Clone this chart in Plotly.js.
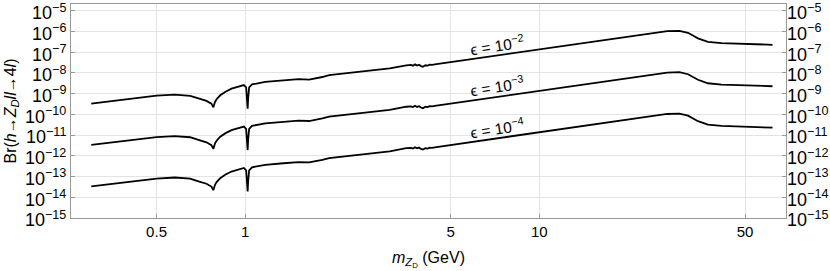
<!DOCTYPE html>
<html>
<head>
<meta charset="utf-8">
<script src="https://cdn.plot.ly/plotly-3.0.1.min.js"></script>
<style>html,body{margin:0;padding:0;background:#fff;}#chart{width:830px;height:271px;}</style>
</head>
<body>
<div id="chart"></div>
<script>
// Dark photon mass m_ZD (GeV)
const massGeV = [0.30,0.37,0.43,0.50,0.577,0.65,0.694,0.739,0.768,0.780,0.790,0.800,0.823,0.858,0.899,0.95,0.99,1.008,1.016,1.020,1.024,1.032,1.055,1.17,1.35,1.52,1.65,1.75,1.83,1.93,2.38,3.1,3.53,3.66,3.72,3.78,3.84,3.9,3.96,4.02,4.1,4.17,4.24,4.32,4.47,5.37,7.0,10,14,18.9,24.6,27.2,29.9,31.0,32.0,34.6,37.4,41.6,54,62];

// Br(h -> Z_D l l -> 4l) for epsilon = 1e-2
const brEps2 = [3.35e-10,4.7e-10,6.3e-10,8.0e-10,9.0e-10,7.9e-10,5.9e-10,4.5e-10,3.3e-10,2.2e-10,4.0e-10,5.4e-10,8.4e-10,1.25e-9,1.75e-9,2.3e-9,2.6e-9,2.0e-9,5e-10,1.9e-10,6e-10,2.0e-9,2.8e-9,3.7e-9,4.4e-9,5.0e-9,4.8e-9,5.5e-9,6.4e-9,7.8e-9,1.12e-8,1.65e-8,2.35e-8,2.45e-8,2.25e-8,2.6e-8,2.3e-8,2.5e-8,2.15e-8,2.0e-8,2.35e-8,2.25e-8,2.5e-8,2.45e-8,2.67e-8,3.86e-8,6.7e-8,1.45e-7,2.8e-7,5.2e-7,8.7e-7,1.05e-6,1.09e-6,1.0e-6,8.7e-7,4.7e-7,3.2e-7,2.77e-7,2.48e-7,2.29e-7];

// epsilon = 1e-3
const brEps3 = [3.35e-12,4.7e-12,6.3e-12,8.0e-12,9.0e-12,7.9e-12,5.9e-12,4.5e-12,3.3e-12,2.2e-12,4.0e-12,5.4e-12,8.4e-12,1.25e-11,1.75e-11,2.3e-11,2.6e-11,2.0e-11,5e-12,1.9e-12,6e-12,2.0e-11,2.8e-11,3.7e-11,4.4e-11,5.0e-11,4.8e-11,5.5e-11,6.4e-11,7.8e-11,1.12e-10,1.65e-10,2.35e-10,2.45e-10,2.25e-10,2.6e-10,2.3e-10,2.5e-10,2.15e-10,2.0e-10,2.35e-10,2.25e-10,2.5e-10,2.45e-10,2.67e-10,3.86e-10,6.7e-10,1.45e-9,2.8e-9,5.2e-9,8.7e-9,1.05e-8,1.09e-8,1.0e-8,8.7e-9,4.7e-9,3.2e-9,2.77e-9,2.48e-9,2.29e-9];

// epsilon = 1e-4
const brEps4 = [3.35e-14,4.7e-14,6.3e-14,8.0e-14,9.0e-14,7.9e-14,5.9e-14,4.5e-14,3.3e-14,2.2e-14,4.0e-14,5.4e-14,8.4e-14,1.25e-13,1.75e-13,2.3e-13,2.6e-13,2.0e-13,5e-14,1.9e-14,6e-14,2.0e-13,2.8e-13,3.7e-13,4.4e-13,5.0e-13,4.8e-13,5.5e-13,6.4e-13,7.8e-13,1.12e-12,1.65e-12,2.35e-12,2.45e-12,2.25e-12,2.6e-12,2.3e-12,2.5e-12,2.15e-12,2.0e-12,2.35e-12,2.25e-12,2.5e-12,2.45e-12,2.67e-12,3.86e-12,6.7e-12,1.45e-11,2.8e-11,5.2e-11,8.7e-11,1.05e-10,1.09e-10,1.0e-10,8.7e-11,4.7e-11,3.2e-11,2.77e-11,2.48e-11,2.29e-11];

const xTickVals = [0.5, 1, 5, 10, 50];
const xTickText = ['0.5', '1', '5', '10', '50'];
const yTickVals = [1e-15,1e-14,1e-13,1e-12,1e-11,1e-10,1e-9,1e-8,1e-7,1e-6,1e-5];
const yTickText = ['10<sup>−15</sup>','10<sup>−14</sup>','10<sup>−13</sup>','10<sup>−12</sup>','10<sup>−11</sup>','10<sup>−10</sup>','10<sup>−9</sup>','10<sup>−8</sup>','10<sup>−7</sup>','10<sup>−6</sup>','10<sup>−5</sup>'];
const curveLabels = ['ϵ = 10<sup>−2</sup>', 'ϵ = 10<sup>−3</sup>', 'ϵ = 10<sup>−4</sup>'];
const labelMass = [7.2, 7.2, 7.2];
const labelBr = [2.3e-7, 2.3e-9, 2.3e-11];

const lineStyle = {color: '#000', width: 1.8};
const traces = [brEps2, brEps3, brEps4].map(ys => ({
  x: massGeV, y: ys, type: 'scatter', mode: 'lines', line: lineStyle,
  hoverinfo: 'skip', showlegend: false
}));
// invisible trace so the mirrored right-hand axis is drawn
traces.push({x: [massGeV[0]], y: [brEps2[0]], yaxis: 'y2', type: 'scatter', mode: 'markers',
  marker: {opacity: 0}, hoverinfo: 'skip', showlegend: false});

const family = 'Liberation Sans, Arial, sans-serif';
const font = {family: family, size: 15, color: '#000'};
const tickFontY = {family: family, size: 18, color: '#000'};
const labelFont = {family: family, size: 15.5, color: '#000'};
const titleFont = {family: family, size: 16, color: '#000'};
const yRange = [-15, -4.67];

const layout = {
  width: 830, height: 271,
  margin: {l: 71, r: 44, t: 4, b: 53},
  paper_bgcolor: '#fff', plot_bgcolor: '#fff',
  font: font,
  showlegend: false,
  xaxis: {
    type: 'log', range: [Math.log10(0.256), Math.log10(68.9)],
    tickvals: xTickVals, ticktext: xTickText,
    showgrid: true, gridcolor: '#e3e3e3', gridwidth: 1,
    showline: true, linecolor: '#999', linewidth: 1, mirror: true,
    ticks: 'inside', ticklen: 4, tickcolor: '#999',
    tickfont: font, zeroline: false, automargin: false,
    title: {text: '<i>m</i><sub><i>Z</i><sub>D</sub></sub> (GeV)', font: titleFont, standoff: 12}
  },
  yaxis: {
    type: 'log', range: yRange, tickvals: yTickVals, ticktext: yTickText,
    showgrid: true, gridcolor: '#e3e3e3', gridwidth: 1,
    showline: true, linecolor: '#999', linewidth: 1, mirror: true,
    ticks: 'inside', ticklen: 4, tickcolor: '#999', ticklabeloverflow: 'allow',
    ticklabelshift: 2,
    tickfont: tickFontY, zeroline: false, automargin: false,
    title: {text: 'Br(<i>h</i>→<i>Z</i><sub><i>D</i></sub><i>ll</i>→4<i>l</i>)', font: titleFont, standoff: 4}
  },
  yaxis2: {
    type: 'log', range: yRange, tickvals: yTickVals, ticktext: yTickText,
    overlaying: 'y', side: 'right', showgrid: false, zeroline: false,
    showline: false, ticks: 'inside', ticklen: 4, tickcolor: '#999', ticklabeloverflow: 'allow',
    ticklabelshift: 2,
    tickfont: tickFontY, automargin: false
  },
  annotations: curveLabels.map((t, i) => ({
    x: Math.log10(labelMass[i]), y: Math.log10(labelBr[i]), xref: 'x', yref: 'y',
    text: t, showarrow: false, textangle: -8.5, font: labelFont
  }))
};

Plotly.newPlot('chart', traces, layout, {displayModeBar: false, staticPlot: true});
</script>
</body>
</html>
